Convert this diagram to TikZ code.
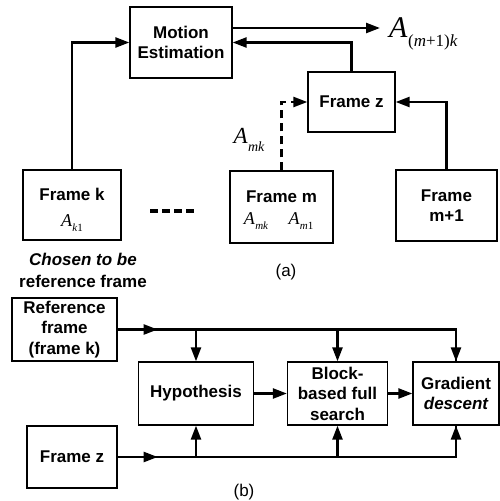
\documentclass[tikz,border=0pt]{standalone}
\usepackage{fontspec}
\setmainfont{Liberation Sans}
\newfontfamily\timesfont{Liberation Serif}
\usetikzlibrary{arrows.meta,decorations.markings}

% italic A with a lowered subscript: size of A, size of subscript, subscript
\newcommand\Alab[3]{{\timesfont\itshape\fontsize{#1}{#1}\selectfont
  A\kern0.02em\raisebox{-0.32em}{\fontsize{#2}{#2}\selectfont #3}}}

\begin{document}
\begin{tikzpicture}[x=1pt,y=-1pt,
  box/.style={draw,line width=1.3pt,inner sep=0pt,align=center,
    font=\fontsize{17}{20.5}\selectfont\bfseries},
  tip/.tip={Triangle[length=14pt,width=10pt]},
  conn/.style={line width=2.4pt,-tip},
  wire/.style={line width=2.4pt},
  midarrow/.style={postaction={decorate},
    decoration={markings,mark=at position #1 with {\arrow{tip}}}},
  caption/.style={font=\fontsize{17}{20.5}\selectfont},
  note/.style={font=\fontsize{17}{22}\selectfont\bfseries,align=center},
  mathlbl/.style={inner sep=0pt}
]
\useasboundingbox (0,0) rectangle (499,501);

% ---------- (a) ----------
\node[box,minimum width=102pt,minimum height=71pt] (me) at (181,42.5)
  {Motion\\[-1pt]Estimation};
\node[box,minimum width=87pt,minimum height=60pt] (fz) at (351.5,102) {Frame z};
\node[box,minimum width=98pt,minimum height=70pt] (fk) at (72,205) {};
\node[box,minimum width=103pt,minimum height=72pt] (fm) at (281.5,207) {};
\node[box,minimum width=101pt,minimum height=71pt] (fm1) at (446.5,205.5)
  {Frame\\m+1};

\node[box,draw=none] (fkt) at (72,194) {Frame k};
\node[mathlbl] (ak1) at (72,223) {\Alab{18}{11}{k\textup{1}}};
\node[box,draw=none] (fmt) at (281.5,197) {Frame m};
\node[mathlbl] (amk) at (256,221) {\Alab{18}{11}{mk}};
\node[mathlbl] (am1) at (301,221) {\Alab{18}{11}{m\textup{1}}};

% ellipsis between the frames
\coordinate (d1) at (150,211);
\coordinate (d2) at (196,211);
\draw[line width=4.5pt,dash pattern=on 8pt off 4pt] (d1) -- (d2);

\draw[conn] (fk.north) |- (me.west);
\coordinate (aout) at (380,28);
\draw[conn] (me.east |- aout) -- (aout);
\node[mathlbl,anchor=west] (amk1) at (389,34)
  {\Alab{30}{17}{\textup{(}m\textup{+1)}k}};
\draw[conn] (fz.north) |- (me.east);
\draw[conn,dash pattern=on 8pt off 5pt] (fm.north) |- (fz.west);
\node[mathlbl] (amklbl) at (249,140) {\Alab{23}{14}{mk}};
\draw[conn] (fm1.north) |- (fz.east);

\node[note] (chosen) at (83,270)
  {\itshape Chosen to be\\reference frame};
\node[caption] (capa) at (286,272) {(a)};

% ---------- (b) ----------
\node[box,minimum width=105pt,minimum height=63pt] (ref) at (64.5,329.5)
  {Reference\\frame\\(frame k)};
\node[box,minimum width=90pt,minimum height=62pt] (fzb) at (72,457) {Frame z};
\node[box,minimum width=115pt,minimum height=63pt] (hyp) at (196,393.5) {Hypothesis};
\node[box,minimum width=100pt,minimum height=63pt] (blk) at (337.5,393.5)
  {Block-\\based full\\search};
\node[box,minimum width=86pt,minimum height=63pt] (gd) at (456,393.5)
  {Gradient\\\itshape descent};

\draw[wire,midarrow=40pt] (ref.east) -| (gd.north);
\draw[conn] (hyp.north |- ref.east) -- (hyp.north);
\draw[conn] (blk.north |- ref.east) -- (blk.north);
\draw[conn] (ref.east -| gd.north) -- (gd.north);

\draw[wire,midarrow=40pt] (fzb.east) -| (gd.south);
\draw[conn] (hyp.south |- fzb.east) -- (hyp.south);
\draw[conn] (blk.south |- fzb.east) -- (blk.south);
\draw[conn] (fzb.east -| gd.south) -- (gd.south);

\draw[conn] (hyp) -- (blk);
\draw[conn] (blk) -- (gd);

\node[caption] (capb) at (244,492) {(b)};
\end{tikzpicture}
\end{document}
